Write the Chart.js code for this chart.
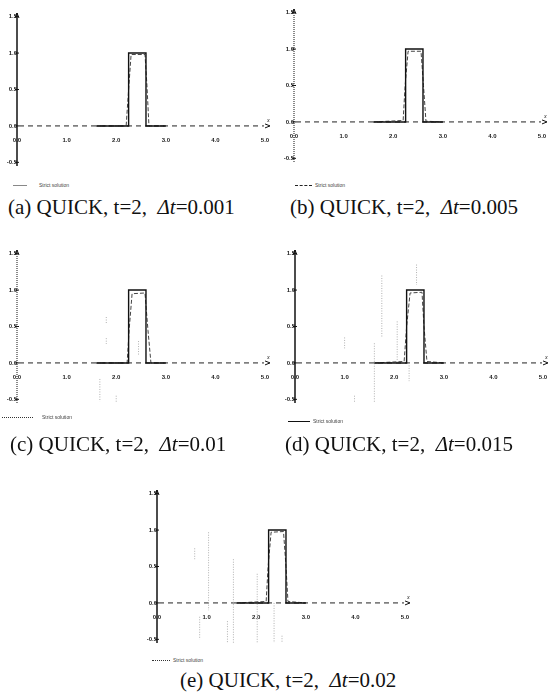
<!DOCTYPE html>
<html>
<head>
<meta charset="utf-8">
<script src="https://cdn.jsdelivr.net/npm/chart.js@4.4.1/dist/chart.umd.min.js"></script>
<style>
  body { margin: 0; background: #fff; width: 557px; height: 698px; position: relative; overflow: hidden; }
  canvas { position: absolute; }
  .cap { position: absolute; font-family: "Liberation Serif", "Times New Roman", serif; font-size: 21px; color: #111; white-space: nowrap; line-height: 22px; }
  .cap i { font-style: italic; }
  .leg { position: absolute; font: 5px "Liberation Sans", Arial, sans-serif; color: #444; white-space: nowrap; line-height: 6px; }
  .leg b { position: absolute; top: 3px; height: 0; border-top: 1px solid #555; }
</style>
</head>
<body>
<canvas id="ca" width="278" height="175" style="left:0;top:0"></canvas>
<canvas id="cb" width="279" height="175" style="left:278px;top:0"></canvas>
<canvas id="cc" width="278" height="180" style="left:0;top:235px"></canvas>
<canvas id="cd" width="279" height="180" style="left:278px;top:235px"></canvas>
<canvas id="ce" width="280" height="185" style="left:140px;top:470px"></canvas>

<div class="leg" style="left:13px;top:182px"><b style="left:0;width:14px;border-top-color:#888"></b><span style="margin-left:26px">Strict solution</span></div>
<div class="leg" style="left:295px;top:182px"><b style="left:0;width:17px;border-top:1px dashed #222"></b><span style="margin-left:20px">Strict solution</span></div>
<div class="leg" style="left:2px;top:414px"><b style="left:0;width:31px;border-top:1px dotted #333"></b><span style="margin-left:40px">Strict solution</span></div>
<div class="leg" style="left:288px;top:418px"><b style="left:0;width:22px;border-top-color:#111"></b><span style="margin-left:25px">Strict solution</span></div>
<div class="leg" style="left:152px;top:657px"><b style="left:0;width:18px;border-top:1px dotted #333"></b><span style="margin-left:21px">Strict solution</span></div>

<div class="cap" style="left:8px;top:196px">(a) QUICK, t=2, &nbsp;<i>Δt</i>=0.001</div>
<div class="cap" style="left:290px;top:196px">(b) QUICK, t=2, &nbsp;<i>Δt</i>=0.005</div>
<div class="cap" style="left:10px;top:433px">(c) QUICK, t=2, &nbsp;<i>Δt</i>=0.01</div>
<div class="cap" style="left:285px;top:433px">(d) QUICK, t=2, &nbsp;<i>Δt</i>=0.015</div>
<div class="cap" style="left:180px;top:669px">(e) QUICK, t=2, &nbsp;<i>Δt</i>=0.02</div>

<script>
// axis ticks
const xTicks = [0, 1, 2, 3, 4, 5]
const yTicks = [-0.5, 0, 0.5, 1, 1.5]

// exact (strict) solution: square pulse
const exactX = [1.6, 2.25, 2.25, 2.6, 2.6, 3.0]
const exactY = [0, 0, 1, 1, 0, 0]

// QUICK numerical solutions, one per time step
const quickAX = [1.6, 2.2, 2.25, 2.3, 2.58, 2.62, 2.66, 3.0]
const quickAY = [0, 0, 0.5, 0.98, 0.98, 0.55, 0, 0]
const quickBX = [1.6, 2.2, 2.24, 2.3, 2.56, 2.61, 2.66, 3.0]
const quickBY = [0, 0.02, 0.5, 0.97, 0.97, 0.5, 0.01, 0]
const quickCX = [1.6, 2.22, 2.26, 2.32, 2.58, 2.64, 2.7, 3.0]
const quickCY = [0, 0, 0.45, 0.95, 0.96, 0.45, 0, 0]
const quickDX = [1.6, 2.2, 2.25, 2.32, 2.56, 2.6, 2.66, 3.0]
const quickDY = [0, 0.02, 0.5, 0.96, 0.97, 0.5, 0.02, 0]
const quickEX = [1.6, 2.2, 2.24, 2.3, 2.55, 2.6, 2.64, 3.0]
const quickEY = [0, 0.02, 0.5, 0.97, 0.98, 0.5, 0.02, 0]

// faint oscillation spikes: [x, yFrom, yTo]
const spikesC = [[1.8, 0.63, 0.54], [1.8, 0.34, 0.26], [1.67, -0.22, -0.53], [2.0, -0.45, -0.65], [2.45, 0.3, 0.1]]
const spikesD = [[1.75, 1.2, 0.35], [1.6, 0.27, -0.8], [1.2, -0.45, -0.8], [2.06, 0.57, 0], [2.45, 1.35, 1.07], [2.3, 0, -0.25], [1.0, 0.35, 0.2]]
const spikesE = [[1.04, 0.97, -0.1], [0.76, 0.75, 0.6], [0.86, -0.19, -0.5], [1.42, -0.25, -0.67], [1.54, 0.6, -0.67], [2.02, 0.4, -0.67], [2.36, 0, -0.67], [2.52, -0.45, -0.67]]

const pts = (xs, ys) => xs.map((x, i) => ({ x: x, y: ys[i] }))
const spikePts = list => {
  const out = []
  list.forEach(s => { out.push({ x: s[0], y: s[1] }, { x: s[0], y: s[2] }, { x: s[0], y: null }) })
  return out
}

// axis lines, tick marks and arrow heads, placed with the chart's scales
const axes = {
  id: 'axes',
  beforeDatasetsDraw(chart, args, opts) {
    const { ctx, scales: { x, y } } = chart
    const x0 = x.getPixelForValue(0), y0 = y.getPixelForValue(0)
    const xe = x.getPixelForValue(x.max), ye = y.getPixelForValue(y.max), yb = y.getPixelForValue(y.min)
    ctx.save()
    ctx.strokeStyle = '#222'
    ctx.lineWidth = 1
    ctx.setLineDash([5, 4])
    ctx.beginPath()
    ctx.moveTo(x0 + 2, y0); ctx.lineTo(xe - 6, y0)
    ctx.stroke()
    ctx.setLineDash(opts.yDash)
    ctx.lineWidth = opts.yWidth
    ctx.strokeStyle = '#111'
    ctx.beginPath()
    ctx.moveTo(x0, yb); ctx.lineTo(x0, ye)
    ctx.stroke()
    ctx.setLineDash([])
    ctx.lineWidth = 1
    ctx.beginPath()
    yTicks.forEach(v => {
      const py = y.getPixelForValue(v)
      ctx.moveTo(x0 - 2, py); ctx.lineTo(x0 + 2, py)
    })
    ctx.moveTo(x0 - 2, ye + 5); ctx.lineTo(x0, ye); ctx.lineTo(x0 + 2, ye + 5)
    ctx.moveTo(xe - 5, y0 - 2); ctx.lineTo(xe, y0); ctx.lineTo(xe - 5, y0 + 2)
    ctx.stroke()
    ctx.fillStyle = '#222'
    ctx.font = 'italic 6px "Liberation Serif"'
    ctx.fillText('x', xe - 3, y0 - 4)
    ctx.restore()
  }
}

const tickFont = { size: 6, weight: 'bold', family: 'Liberation Sans' }

function makePanel(id, pad, quickX, quickY, spikes, yDash, yWidth) {
  const datasets = [
    { data: pts(exactX, exactY), borderColor: '#111', borderWidth: 1.4, pointRadius: 0 },
    { data: pts(quickX, quickY), borderColor: '#444', borderWidth: 1, borderDash: [4, 2], pointRadius: 0 }
  ]
  if (spikes) {
    datasets.push({ data: spikePts(spikes), borderColor: '#b0b0b0', borderWidth: 1, borderDash: [1, 1.5], pointRadius: 0, spanGaps: false })
  }
  new Chart(document.getElementById(id).getContext('2d'), {
    type: 'line',
    data: { datasets: datasets },
    plugins: [axes],
    options: {
      responsive: false,
      animation: false,
      layout: { padding: pad },
      plugins: { legend: { display: false }, tooltip: { enabled: false }, axes: { yDash: yDash, yWidth: yWidth } },
      scales: {
        x: {
          type: 'linear', min: 0, max: 5.1, position: { y: 0 },
          afterFit(s) { s.height = 0 },
          afterBuildTicks(s) { s.ticks = xTicks.map(v => ({ value: v })) },
          grid: { display: false },
          border: { display: false },
          ticks: { font: tickFont, color: '#222', padding: 3, autoSkip: false, maxRotation: 0, callback: v => v.toFixed(1) }
        },
        y: {
          type: 'linear', min: -0.55, max: 1.55, position: { x: 0 },
          afterFit(s) { s.width = 0 },
          afterBuildTicks(s) { s.ticks = yTicks.map(v => ({ value: v })) },
          grid: { display: false },
          border: { display: false },
          ticks: { font: tickFont, color: '#222', padding: 4, autoSkip: false, callback: v => v.toFixed(1) }
        }
      }
    }
  })
}

makePanel('ca', { left: 17, right: 8, top: 13, bottom: 9 }, quickAX, quickAY, null, [], 1.5)
makePanel('cb', { left: 16, right: 10, top: 9, bottom: 13 }, quickBX, quickBY, null, [1, 1], 1)
makePanel('cc', { left: 17, right: 8, top: 15, bottom: 12 }, quickCX, quickCY, spikesC, [1, 1], 1)
makePanel('cd', { left: 17, right: 9, top: 15, bottom: 12 }, quickDX, quickDY, spikesD, [], 1.5)
makePanel('ce', { left: 17, right: 10, top: 20, bottom: 12 }, quickEX, quickEY, spikesE, [], 1.5)
</script>
</body>
</html>
